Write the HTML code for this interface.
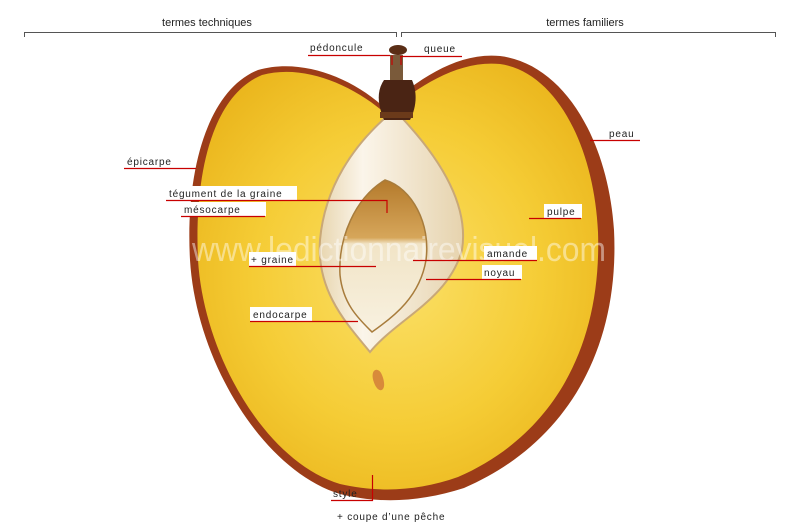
<!DOCTYPE html>
<html><head><meta charset="utf-8"><style>
html,body{margin:0;padding:0;background:#fff;}
svg{display:block;font-family:"Liberation Sans",sans-serif;}
.t{font-size:10px;letter-spacing:0.8px;fill:#222;}
</style></head><body>
<svg width="800" height="527" viewBox="0 0 800 527">
<defs>
<radialGradient id="fl" cx="0.5" cy="0.5" r="0.6">
<stop offset="0" stop-color="#fbe068"/><stop offset="0.6" stop-color="#f5cc35"/><stop offset="1" stop-color="#eab51c"/>
</radialGradient>
<linearGradient id="pit" x1="0" y1="0" x2="1" y2="0">
<stop offset="0" stop-color="#e8d6b0"/><stop offset="0.3" stop-color="#fbf5ea"/><stop offset="1" stop-color="#e6d3ae"/>
</linearGradient>
<linearGradient id="sd" x1="0" y1="0" x2="0" y2="1">
<stop offset="0" stop-color="#b47a2c"/><stop offset="0.38" stop-color="#d6a65a"/><stop offset="0.42" stop-color="#f1e4c6"/><stop offset="1" stop-color="#f8f1e0"/>
</linearGradient>
</defs>
<g stroke="#555" fill="none" stroke-width="1">
<path d="M24.5,37 V32.5 H396.5 V37"/>
<path d="M401.5,37 V32.5 H775.5 V37"/>
</g>
<text x="207" y="26" text-anchor="middle" style="font-size:11px;fill:#222">termes techniques</text>
<text x="585" y="26" text-anchor="middle" style="font-size:11px;fill:#222">termes familiers</text>
<!-- peach -->
<path d="M385,108 C350,76 300,58 258,70 C208,90 185,170 190,260 C196,360 262,470 340,494 C380,504 420,502 464,488 C566,444 620,350 614,230 C608,140 564,64 500,56 C458,52 420,78 385,108 Z" fill="#9c3c18"/>
<path d="M385,113 C350,83 302,64 262,75 C213,95 194,172 198,260 C204,356 266,462 340,484 C380,493 418,491 458,477 C552,436 602,348 598,232 C594,146 556,72 500,64 C460,60 422,84 385,113 Z" fill="url(#fl)"/>
<!-- pit -->
<path d="M385,118 C355,145 325,185 320,240 C316,292 348,325 370,352 C398,318 448,300 462,250 C470,200 432,150 402,118 Z" fill="url(#pit)" stroke="#c9a877" stroke-width="2"/>
<path d="M385,180 C355,198 338,238 340,275 C343,305 360,320 372,332 C395,316 420,296 426,260 C431,224 412,188 385,180 Z" fill="url(#sd)" stroke="#a87c3c" stroke-width="1.5"/>
<path d="M375,385 C368,370 378,365 382,375 C388,390 380,395 375,385Z" fill="#d88a3a"/>
<!-- stem -->
<path d="M384,120 C378,105 376,92 384,80 L412,80 C418,94 416,108 410,120 Z" fill="#4a2414"/>
<rect x="380" y="112" width="33" height="6" fill="#6b3a1a"/>
<rect x="390" y="55" width="13" height="25" fill="#7a5a3a"/>
<ellipse cx="398" cy="50" rx="9" ry="5" fill="#5a2e16"/>
<!-- watermark -->
<text x="192" y="261" textLength="414" lengthAdjust="spacingAndGlyphs" style="font-size:34px;fill:#fff;fill-opacity:0.45">www.ledictionnairevisuel.com</text>
<g fill="#fff">
<rect x="166" y="186" width="131" height="14"/>
<rect x="181" y="202" width="85" height="14"/>
<rect x="249" y="252" width="47" height="14"/>
<rect x="484" y="246" width="53" height="14"/>
<rect x="482" y="265" width="40" height="14"/>
<rect x="544" y="204" width="38" height="14"/>
<rect x="250" y="307" width="62" height="14"/>
</g>
<g stroke="#c80000" stroke-width="1.2" fill="none">
<path d="M308,55.5 H390 M392,55.5 V65 M400,56.5 H462 M401,56.5 V65"/>
<path d="M590,140.5 H640"/>
<path d="M124,168.5 H196"/>
<path d="M166,200.5 H387 V213"/>
<path d="M181,216.5 H265"/>
<path d="M249,266.5 H376"/>
<path d="M413,260.5 H537"/>
<path d="M426,279.5 H521"/>
<path d="M529,218.5 H581"/>
<path d="M250,321.5 H358"/>
<path d="M331,500.5 H372.5 V475"/>
</g>
<g class="t">
<text x="310" y="51">pédoncule</text>
<text x="424" y="52">queue</text>
<text x="609" y="137">peau</text>
<text x="127" y="165">épicarpe</text>
<text x="169" y="197">tégument de la graine</text>
<text x="184" y="213">mésocarpe</text>
<text x="251" y="263">+ graine</text>
<text x="487" y="257">amande</text>
<text x="484" y="276">noyau</text>
<text x="547" y="215">pulpe</text>
<text x="253" y="318">endocarpe</text>
<text x="333" y="497">style</text>
<text x="337" y="520">+ coupe d’une pêche</text>
</g>
</svg>
</body></html>
